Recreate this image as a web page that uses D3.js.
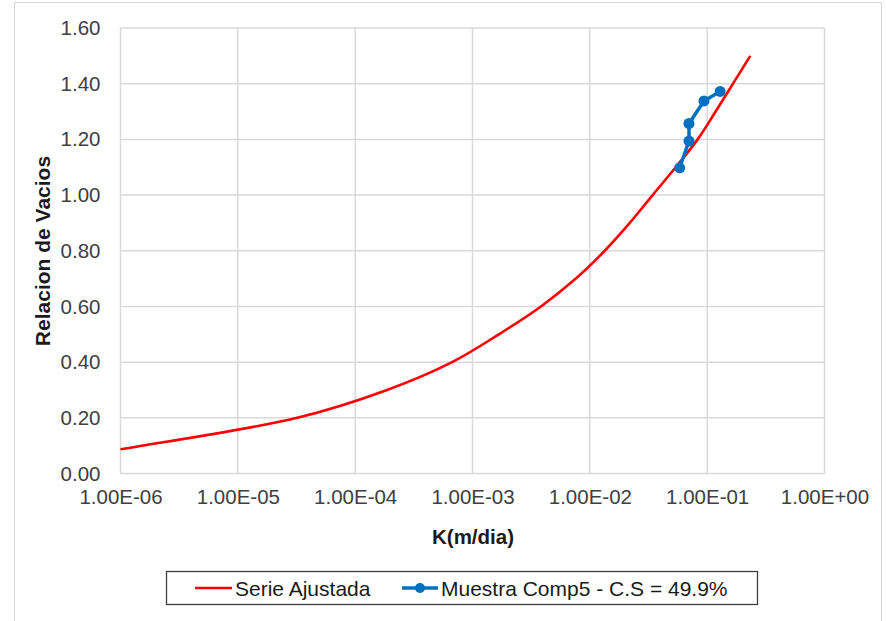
<!DOCTYPE html>
<html>
<head>
<meta charset="utf-8">
<script src="https://cdn.jsdelivr.net/npm/d3@7"></script>
<style>
  html, body { margin: 0; padding: 0; background: #fff; }
  svg { display: block; font-family: "Liberation Sans", Arial, sans-serif; }
</style>
</head>
<body>
<svg id="chart" width="886" height="621"></svg>
<script>
// Fitted curve: permeability K (m/dia) vs void ratio
const fitK = [1.0e-6, 1.4e-6, 3.21e-5, 1.87e-4, 6.70e-4, 1.68e-3, 3.83e-3, 7.60e-3, 1.34e-2, 2.19e-2, 3.43e-2, 5.39e-2, 8.30e-2, 1.18e-1, 1.66e-1, 2.33e-1];
const fitE = [0.087, 0.097, 0.20, 0.30, 0.40, 0.50, 0.60, 0.70, 0.80, 0.90, 1.00, 1.10, 1.20, 1.30, 1.40, 1.50];

// Measured sample
const sampleK = [0.0583, 0.070, 0.070, 0.094, 0.129];
const sampleE = [1.098, 1.194, 1.257, 1.338, 1.372];

const xTicks = [1e-6, 1e-5, 1e-4, 1e-3, 1e-2, 1e-1, 1e0];
const xTickLabels = ["1.00E-06", "1.00E-05", "1.00E-04", "1.00E-03", "1.00E-02", "1.00E-01", "1.00E+00"];
const yTicks = [0, 0.2, 0.4, 0.6, 0.8, 1.0, 1.2, 1.4, 1.6];

const seriesNames = ["Serie Ajustada", "Muestra Comp5 - C.S = 49.9%"];
const seriesColors = ["#ff0000", "#0070c0"];

const svg = d3.select("#chart");
const plot = { left: 120.5, right: 824.5, top: 28, bottom: 473.5 };

// outer chart frame
svg.append("rect")
  .attr("x", 14.5).attr("y", 2.5).attr("width", 867).attr("height", 640)
  .attr("fill", "#fff").attr("stroke", "#d9d9d9").attr("stroke-width", 1.2);

const x = d3.scaleLog().domain([1e-6, 1]).range([plot.left, plot.right]);
const y = d3.scaleLinear().domain([0, 1.6]).range([plot.bottom, plot.top]);

// gridlines
const grid = svg.append("g").attr("stroke", "#d9d9d9").attr("stroke-width", 1.5);
grid.selectAll("line.h").data(yTicks).join("line")
  .attr("x1", plot.left).attr("x2", plot.right)
  .attr("y1", d => y(d)).attr("y2", d => y(d));
grid.selectAll("line.v").data(xTicks).join("line")
  .attr("y1", plot.top).attr("y2", plot.bottom)
  .attr("x1", d => x(d)).attr("x2", d => x(d));

// axes (labels only, lines drawn by grid)
const xAxis = d3.axisBottom(x).tickValues(xTicks)
  .tickFormat((d, i) => xTickLabels[i]).tickSize(0).tickPadding(16);
const gx = svg.append("g").attr("transform", `translate(0,${plot.bottom})`).call(xAxis);
gx.select(".domain").remove();
gx.selectAll("text").attr("font-size", 20.5).attr("fill", "#404040")
  .attr("font-family", "Liberation Sans, Arial, sans-serif");

const yAxis = d3.axisLeft(y).tickValues(yTicks).tickFormat(d3.format(".2f"))
  .tickSize(0).tickPadding(20);
const gy = svg.append("g").attr("transform", `translate(${plot.left},0)`).call(yAxis);
gy.select(".domain").remove();
gy.selectAll("text").attr("font-size", 20.5).attr("fill", "#404040")
  .attr("font-family", "Liberation Sans, Arial, sans-serif");

// axis titles
svg.append("text")
  .attr("x", 473).attr("y", 544)
  .attr("text-anchor", "middle").attr("font-size", 20.5).attr("font-weight", "bold")
  .attr("fill", "#1a1a1a").text("K(m/dia)");
svg.append("text")
  .attr("transform", "translate(50,251) rotate(-90)")
  .attr("text-anchor", "middle").attr("font-size", 21).attr("font-weight", "bold")
  .attr("fill", "#1a1a1a").text("Relacion de Vacios");

// fitted curve
const fitData = fitK.map((k, i) => [k, fitE[i]]);
const line = d3.line().x(d => x(d[0])).y(d => y(d[1])).curve(d3.curveCatmullRom.alpha(0.5));
svg.append("path").datum(fitData)
  .attr("fill", "none").attr("stroke", seriesColors[0]).attr("stroke-width", 2.6)
  .attr("stroke-linejoin", "round").attr("d", line);

// sample series
const sampleData = sampleK.map((k, i) => [k, sampleE[i]]);
const straight = d3.line().x(d => x(d[0])).y(d => y(d[1]));
svg.append("path").datum(sampleData)
  .attr("fill", "none").attr("stroke", seriesColors[1]).attr("stroke-width", 3.5)
  .attr("stroke-linejoin", "round").attr("d", straight);
svg.append("g").selectAll("circle").data(sampleData).join("circle")
  .attr("cx", d => x(d[0])).attr("cy", d => y(d[1])).attr("r", 5.5)
  .attr("fill", seriesColors[1]);

// legend
const lg = svg.append("g");
lg.append("rect").attr("x", 166.5).attr("y", 571.5).attr("width", 591).attr("height", 33)
  .attr("fill", "#fff").attr("stroke", "#404040").attr("stroke-width", 1.3);
const ly = 588;
lg.append("line").attr("x1", 195).attr("x2", 232).attr("y1", ly).attr("y2", ly)
  .attr("stroke", seriesColors[0]).attr("stroke-width", 2.6);
lg.append("text").attr("x", 235).attr("y", ly + 7.5).attr("font-size", 21)
  .attr("fill", "#1a1a1a").text(seriesNames[0]);
lg.append("line").attr("x1", 402).attr("x2", 438).attr("y1", ly).attr("y2", ly)
  .attr("stroke", seriesColors[1]).attr("stroke-width", 3.5);
lg.append("circle").attr("cx", 420).attr("cy", ly).attr("r", 5)
  .attr("fill", seriesColors[1]);
lg.append("text").attr("x", 441).attr("y", ly + 7.5).attr("font-size", 21)
  .attr("fill", "#1a1a1a").text(seriesNames[1]);
</script>
</body>
</html>
